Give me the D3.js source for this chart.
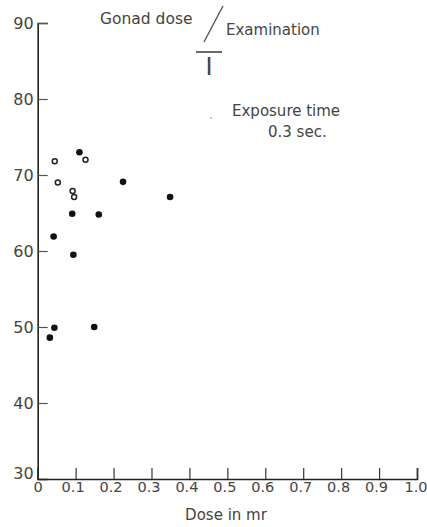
<!DOCTYPE html>
<html lang="en">
<head>
<meta charset="UTF-8">
<title>Gonad dose / Examination</title>
<script src="https://cdn.jsdelivr.net/npm/d3@7"></script>
<style>
  body { margin: 0; background: #fff; }
  text { font-family: "DejaVu Sans", sans-serif; fill: #444; }
</style>
</head>
<body>
<script>
// dose in mr (x) and examination value (y)
const filledX = [0.110, 0.225, 0.349, 0.091, 0.161, 0.042, 0.094, 0.044, 0.032, 0.149];
const filledY = [73.0, 69.1, 67.1, 64.9, 64.8, 61.9, 59.5, 49.9, 48.6, 50.0];
const openX = [0.045, 0.126, 0.053, 0.092, 0.096];
const openY = [71.8, 72.0, 69.0, 67.9, 67.1];
const xTicks = [0, 0.1, 0.2, 0.3, 0.4, 0.5, 0.6, 0.7, 0.8, 0.9, 1.0];
const yTicks = [30, 40, 50, 60, 70, 80, 90];

const W = 427, H = 527;
const svg = d3.select("body").append("svg").attr("width", W).attr("height", H);

const x = d3.scaleLinear().domain([0, 1]).range([37.7, 417]);
const y = d3.scaleLinear().domain([30, 90]).range([479, 23]);

// x axis, ticks pointing up
const xAxis = svg.append("g").attr("transform", `translate(0,${y(30)})`)
  .call(d3.axisBottom(x).tickValues(xTicks).tickSize(-11).tickPadding(4)
    .tickFormat(d => d === 0 ? "0" : d === 1 ? "1.0" : d3.format(".1f")(d)));
xAxis.select(".domain").attr("stroke", "#222").attr("stroke-width", 1.6);
xAxis.selectAll(".tick line").attr("stroke", "#333").attr("stroke-width", 1.2);
xAxis.selectAll(".tick text").attr("font-size", 14.5).attr("fill", "#555")
  .attr("font-family", "DejaVu Sans").attr("dy", "0.6em")
  .attr("text-anchor", d => d === 1 ? "end" : "middle")
  .attr("x", d => d === 1 ? 10 : d === 0 ? 0 : -3);

// y axis, ticks pointing right
const yAxis = svg.append("g").attr("transform", `translate(${x(0)},0)`)
  .call(d3.axisLeft(y).tickValues(yTicks).tickSize(-10).tickPadding(4));
yAxis.select(".domain").attr("stroke", "#222").attr("stroke-width", 1.6);
yAxis.selectAll(".tick line").attr("stroke", "#555").attr("stroke-width", 1.2)
  .attr("x2", d => d === 30 ? 0 : 10);
yAxis.selectAll(".tick text").attr("font-size", 16).attr("fill", "#555")
  .attr("font-family", "DejaVu Sans")
  .attr("dy", d => d === 30 ? "-0.05em" : "0.32em");

// points
svg.append("g").selectAll("circle")
  .data(filledX.map((d, i) => [d, filledY[i]]))
  .join("circle")
  .attr("cx", d => x(d[0])).attr("cy", d => y(d[1]))
  .attr("r", 3.3).attr("fill", "#111");

svg.append("g").selectAll("circle")
  .data(openX.map((d, i) => [d, openY[i]]))
  .join("circle")
  .attr("cx", d => x(d[0])).attr("cy", d => y(d[1]))
  .attr("r", 2.5).attr("fill", "#fff").attr("stroke", "#222").attr("stroke-width", 1.5);

// title lettering
svg.append("text").attr("x", 100).attr("y", 24).attr("font-size", 15.5).text("Gonad dose");
svg.append("line").attr("x1", 204).attr("y1", 42).attr("x2", 223).attr("y2", 6)
  .attr("stroke", "#555").attr("stroke-width", 1.4);
svg.append("text").attr("x", 226).attr("y", 35).attr("font-size", 15).text("Examination");
svg.append("line").attr("x1", 196).attr("y1", 52).attr("x2", 222).attr("y2", 52)
  .attr("stroke", "#444").attr("stroke-width", 1.6);
svg.append("text").attr("x", 209).attr("y", 75).attr("font-size", 24)
  .attr("text-anchor", "middle").attr("font-family", "DejaVu Serif").text("I");

svg.append("circle").attr("cx", 211).attr("cy", 118).attr("r", 0.7).attr("fill", "#666");
svg.append("text").attr("x", 232).attr("y", 116).attr("font-size", 15).text("Exposure time");
svg.append("text").attr("x", 268).attr("y", 137).attr("font-size", 15).text("0.3 sec.");

svg.append("text").attr("x", 226).attr("y", 520).attr("font-size", 15)
  .attr("text-anchor", "middle").text("Dose in mr");
</script>
</body>
</html>
